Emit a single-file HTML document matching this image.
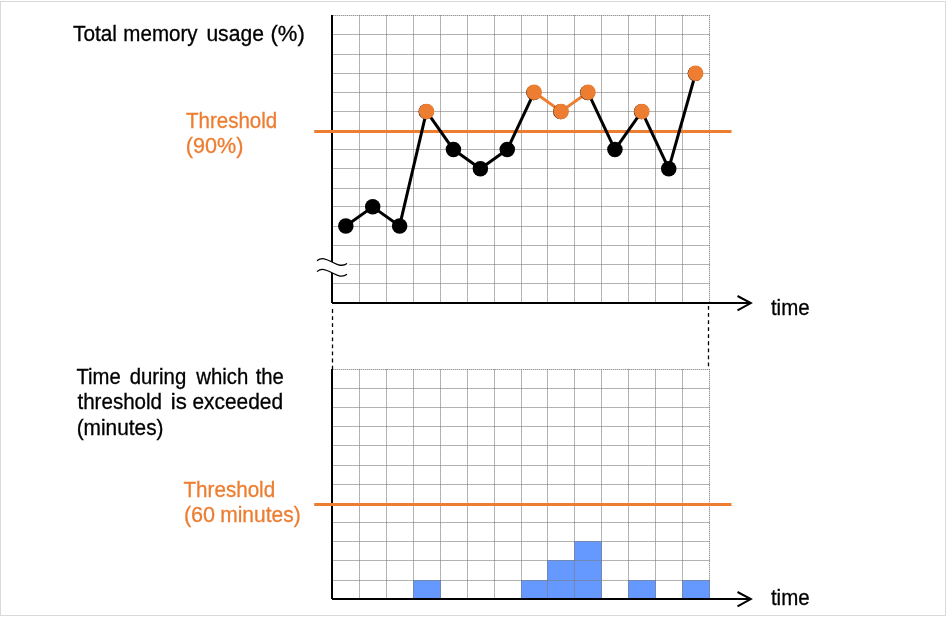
<!DOCTYPE html>
<html><head><meta charset="utf-8"><title>Memory usage threshold diagram</title>
<style>html,body{margin:0;padding:0;background:#fff;width:948px;height:618px;overflow:hidden}svg{display:block;will-change:transform}</style>
</head><body><svg width="948" height="618" viewBox="0 0 948 618"><rect x="0.5" y="1.5" width="945" height="614" fill="#fff" stroke="#d9d9d9" stroke-width="1"/><rect x="413" y="580" width="28" height="18" fill="#6699FF"/><rect x="521" y="580" width="27" height="18" fill="#6699FF"/><rect x="547" y="560" width="28" height="38" fill="#6699FF"/><rect x="574" y="541" width="28" height="57" fill="#6699FF"/><rect x="628" y="580" width="28" height="18" fill="#6699FF"/><rect x="682" y="580" width="28" height="18" fill="#6699FF"/><g stroke-width="1" stroke="#7a7a7a"><g stroke-opacity="0.52"><line x1="333" y1="34.5" x2="710" y2="34.5"/><line x1="333" y1="54.5" x2="710" y2="54.5"/><line x1="333" y1="73.5" x2="710" y2="73.5"/><line x1="333" y1="92.5" x2="710" y2="92.5"/><line x1="333" y1="111.5" x2="710" y2="111.5"/><line x1="333" y1="130.5" x2="710" y2="130.5"/><line x1="333" y1="149.5" x2="710" y2="149.5"/><line x1="333" y1="168.5" x2="710" y2="168.5"/><line x1="333" y1="188.5" x2="710" y2="188.5"/><line x1="333" y1="206.5" x2="710" y2="206.5"/><line x1="333" y1="226.5" x2="710" y2="226.5"/><line x1="333" y1="245.5" x2="710" y2="245.5"/><line x1="333" y1="264.5" x2="710" y2="264.5"/><line x1="333" y1="283.5" x2="710" y2="283.5"/></g><g stroke-opacity="0.22" stroke-dasharray="1 1"><line x1="333" y1="34.5" x2="710" y2="34.5"/><line x1="333" y1="54.5" x2="710" y2="54.5"/><line x1="333" y1="73.5" x2="710" y2="73.5"/><line x1="333" y1="92.5" x2="710" y2="92.5"/><line x1="333" y1="111.5" x2="710" y2="111.5"/><line x1="333" y1="130.5" x2="710" y2="130.5"/><line x1="333" y1="149.5" x2="710" y2="149.5"/><line x1="333" y1="168.5" x2="710" y2="168.5"/><line x1="333" y1="188.5" x2="710" y2="188.5"/><line x1="333" y1="206.5" x2="710" y2="206.5"/><line x1="333" y1="226.5" x2="710" y2="226.5"/><line x1="333" y1="245.5" x2="710" y2="245.5"/><line x1="333" y1="264.5" x2="710" y2="264.5"/><line x1="333" y1="283.5" x2="710" y2="283.5"/></g><g stroke-opacity="0.50"><line x1="359.5" y1="15" x2="359.5" y2="302"/><line x1="386.5" y1="15" x2="386.5" y2="302"/><line x1="413.5" y1="15" x2="413.5" y2="302"/><line x1="440.5" y1="15" x2="440.5" y2="302"/><line x1="467.5" y1="15" x2="467.5" y2="302"/><line x1="494.5" y1="15" x2="494.5" y2="302"/><line x1="521.5" y1="15" x2="521.5" y2="302"/><line x1="547.5" y1="15" x2="547.5" y2="302"/><line x1="574.5" y1="15" x2="574.5" y2="302"/><line x1="601.5" y1="15" x2="601.5" y2="302"/><line x1="628.5" y1="15" x2="628.5" y2="302"/><line x1="655.5" y1="15" x2="655.5" y2="302"/><line x1="682.5" y1="15" x2="682.5" y2="302"/></g><g stroke-opacity="0.30" stroke-dasharray="1 1"><line x1="359.5" y1="15" x2="359.5" y2="302"/><line x1="386.5" y1="15" x2="386.5" y2="302"/><line x1="413.5" y1="15" x2="413.5" y2="302"/><line x1="440.5" y1="15" x2="440.5" y2="302"/><line x1="467.5" y1="15" x2="467.5" y2="302"/><line x1="494.5" y1="15" x2="494.5" y2="302"/><line x1="521.5" y1="15" x2="521.5" y2="302"/><line x1="547.5" y1="15" x2="547.5" y2="302"/><line x1="574.5" y1="15" x2="574.5" y2="302"/><line x1="601.5" y1="15" x2="601.5" y2="302"/><line x1="628.5" y1="15" x2="628.5" y2="302"/><line x1="655.5" y1="15" x2="655.5" y2="302"/><line x1="682.5" y1="15" x2="682.5" y2="302"/></g><g stroke-opacity="0.33"><line x1="333" y1="15.5" x2="710" y2="15.5"/><line x1="709.5" y1="15" x2="709.5" y2="302"/></g><g stroke-opacity="0.65" stroke-dasharray="1 1"><line x1="333" y1="15.5" x2="710" y2="15.5"/><line x1="709.5" y1="15" x2="709.5" y2="302"/></g></g><g stroke-width="1" stroke="#7a7a7a"><g stroke-opacity="0.52"><line x1="333" y1="388.5" x2="710" y2="388.5"/><line x1="333" y1="407.5" x2="710" y2="407.5"/><line x1="333" y1="426.5" x2="710" y2="426.5"/><line x1="333" y1="445.5" x2="710" y2="445.5"/><line x1="333" y1="465.5" x2="710" y2="465.5"/><line x1="333" y1="484.5" x2="710" y2="484.5"/><line x1="333" y1="503.5" x2="710" y2="503.5"/><line x1="333" y1="522.5" x2="710" y2="522.5"/><line x1="333" y1="541.5" x2="710" y2="541.5"/><line x1="333" y1="560.5" x2="710" y2="560.5"/><line x1="333" y1="580.5" x2="710" y2="580.5"/></g><g stroke-opacity="0.22" stroke-dasharray="1 1"><line x1="333" y1="388.5" x2="710" y2="388.5"/><line x1="333" y1="407.5" x2="710" y2="407.5"/><line x1="333" y1="426.5" x2="710" y2="426.5"/><line x1="333" y1="445.5" x2="710" y2="445.5"/><line x1="333" y1="465.5" x2="710" y2="465.5"/><line x1="333" y1="484.5" x2="710" y2="484.5"/><line x1="333" y1="503.5" x2="710" y2="503.5"/><line x1="333" y1="522.5" x2="710" y2="522.5"/><line x1="333" y1="541.5" x2="710" y2="541.5"/><line x1="333" y1="560.5" x2="710" y2="560.5"/><line x1="333" y1="580.5" x2="710" y2="580.5"/></g><g stroke-opacity="0.50"><line x1="359.5" y1="369" x2="359.5" y2="598"/><line x1="386.5" y1="369" x2="386.5" y2="598"/><line x1="413.5" y1="369" x2="413.5" y2="598"/><line x1="440.5" y1="369" x2="440.5" y2="598"/><line x1="467.5" y1="369" x2="467.5" y2="598"/><line x1="494.5" y1="369" x2="494.5" y2="598"/><line x1="521.5" y1="369" x2="521.5" y2="598"/><line x1="547.5" y1="369" x2="547.5" y2="598"/><line x1="574.5" y1="369" x2="574.5" y2="598"/><line x1="601.5" y1="369" x2="601.5" y2="598"/><line x1="628.5" y1="369" x2="628.5" y2="598"/><line x1="655.5" y1="369" x2="655.5" y2="598"/><line x1="682.5" y1="369" x2="682.5" y2="598"/></g><g stroke-opacity="0.30" stroke-dasharray="1 1"><line x1="359.5" y1="369" x2="359.5" y2="598"/><line x1="386.5" y1="369" x2="386.5" y2="598"/><line x1="413.5" y1="369" x2="413.5" y2="598"/><line x1="440.5" y1="369" x2="440.5" y2="598"/><line x1="467.5" y1="369" x2="467.5" y2="598"/><line x1="494.5" y1="369" x2="494.5" y2="598"/><line x1="521.5" y1="369" x2="521.5" y2="598"/><line x1="547.5" y1="369" x2="547.5" y2="598"/><line x1="574.5" y1="369" x2="574.5" y2="598"/><line x1="601.5" y1="369" x2="601.5" y2="598"/><line x1="628.5" y1="369" x2="628.5" y2="598"/><line x1="655.5" y1="369" x2="655.5" y2="598"/><line x1="682.5" y1="369" x2="682.5" y2="598"/></g><g stroke-opacity="0.33"><line x1="333" y1="369.5" x2="710" y2="369.5"/><line x1="709.5" y1="369" x2="709.5" y2="598"/></g><g stroke-opacity="0.65" stroke-dasharray="1 1"><line x1="333" y1="369.5" x2="710" y2="369.5"/><line x1="709.5" y1="369" x2="709.5" y2="598"/></g></g><path d="M332 15 V303 M332 303 H750" fill="none" stroke="#000" stroke-width="2"/><path d="M737.5 296.0 L750.8 303 L737.5 310.4" fill="none" stroke="#000" stroke-width="2"/><path d="M332 369 V599 M332 599 H750" fill="none" stroke="#000" stroke-width="2"/><path d="M737.5 592.0 L750.8 599 L737.5 606.4" fill="none" stroke="#000" stroke-width="2"/><line x1="314.2" y1="131.5" x2="731.5" y2="131.5" stroke="#ED7D31" stroke-width="3"/><line x1="314.2" y1="504.5" x2="731.5" y2="504.5" stroke="#ED7D31" stroke-width="3"/><line x1="345.80" y1="225.94" x2="372.71" y2="206.85" stroke="#000" stroke-width="3"/><line x1="372.71" y1="206.85" x2="399.62" y2="225.94" stroke="#000" stroke-width="3"/><line x1="399.62" y1="225.94" x2="426.53" y2="111.40" stroke="#000" stroke-width="3"/><line x1="426.53" y1="111.40" x2="453.44" y2="149.58" stroke="#000" stroke-width="3"/><line x1="453.44" y1="149.58" x2="480.36" y2="168.67" stroke="#000" stroke-width="3"/><line x1="480.36" y1="168.67" x2="507.27" y2="149.58" stroke="#000" stroke-width="3"/><line x1="507.27" y1="149.58" x2="534.18" y2="92.31" stroke="#000" stroke-width="3"/><line x1="534.18" y1="92.31" x2="561.09" y2="111.40" stroke="#ED7D31" stroke-width="3"/><line x1="561.09" y1="111.40" x2="588.00" y2="92.31" stroke="#ED7D31" stroke-width="3"/><line x1="588.00" y1="92.31" x2="614.91" y2="149.58" stroke="#000" stroke-width="3"/><line x1="614.91" y1="149.58" x2="641.82" y2="111.40" stroke="#000" stroke-width="3"/><line x1="641.82" y1="111.40" x2="668.73" y2="168.67" stroke="#000" stroke-width="3"/><line x1="668.73" y1="168.67" x2="695.64" y2="73.22" stroke="#000" stroke-width="3"/><circle cx="345.80" cy="225.94" r="7.75" fill="#000"/><circle cx="372.71" cy="206.85" r="7.75" fill="#000"/><circle cx="399.62" cy="225.94" r="7.75" fill="#000"/><circle cx="426.13" cy="111.70" r="7.6" fill="#000"/><circle cx="426.53" cy="111.40" r="7.75" fill="#ED7D31"/><circle cx="453.44" cy="149.58" r="7.75" fill="#000"/><circle cx="480.36" cy="168.67" r="7.75" fill="#000"/><circle cx="507.27" cy="149.58" r="7.75" fill="#000"/><circle cx="533.78" cy="92.61" r="7.6" fill="#000"/><circle cx="534.18" cy="92.31" r="7.75" fill="#ED7D31"/><circle cx="560.69" cy="111.70" r="7.6" fill="#000"/><circle cx="561.09" cy="111.40" r="7.75" fill="#ED7D31"/><circle cx="587.60" cy="92.61" r="7.6" fill="#000"/><circle cx="588.00" cy="92.31" r="7.75" fill="#ED7D31"/><circle cx="614.91" cy="149.58" r="7.75" fill="#000"/><circle cx="641.42" cy="111.70" r="7.6" fill="#000"/><circle cx="641.82" cy="111.40" r="7.75" fill="#ED7D31"/><circle cx="668.73" cy="168.67" r="7.75" fill="#000"/><circle cx="695.24" cy="73.52" r="7.6" fill="#000"/><circle cx="695.64" cy="73.22" r="7.75" fill="#ED7D31"/><line x1="332.5" y1="309.1" x2="332.5" y2="369" stroke="#000" stroke-width="1.3" stroke-dasharray="3.8 3.27"/><line x1="708.5" y1="306" x2="708.5" y2="368" stroke="#000" stroke-width="1.3" stroke-dasharray="3.8 3.27"/><path d="M317,260.8 C322,256.5 327,259.5 332,262 S342,267.5 347,263.5 L349,263.5 L349,274.3 L347,274.3 C342,278.3 337,275.3 332,272.8 C327,270.3 322,267.3 317,271.6 Z" fill="#fff"/><path d="M317,260.8 C322,256.5 327,259.5 332,262 S342,267.5 347,263.5" fill="none" stroke="#000" stroke-width="1.25"/><path d="M317,271.6 C322,267.3 327,270.3 332,272.8 S342,278.3 347,274.3" fill="none" stroke="#000" stroke-width="1.25"/><g font-family="'Liberation Sans', Arial, sans-serif" font-size="21.5" stroke-width="0.3"><text x="73.00" y="41.00" fill="#000" stroke="#000" textLength="43.96" lengthAdjust="spacingAndGlyphs">Total</text><text x="123.36" y="41.00" fill="#000" stroke="#000" textLength="74.20" lengthAdjust="spacingAndGlyphs">memory</text><text x="206.38" y="41.00" fill="#000" stroke="#000" textLength="57.52" lengthAdjust="spacingAndGlyphs">usage</text><text x="270.47" y="41.00" fill="#000" stroke="#000" textLength="34.25" lengthAdjust="spacingAndGlyphs">(%)</text><text x="185.91" y="127.90" fill="#ED7D31" stroke="#ED7D31" textLength="91.36" lengthAdjust="spacingAndGlyphs">Threshold</text><text x="185.80" y="152.70" fill="#ED7D31" stroke="#ED7D31" textLength="57.64" lengthAdjust="spacingAndGlyphs">(90%)</text><text x="770.95" y="314.90" fill="#000" stroke="#000" textLength="38.67" lengthAdjust="spacingAndGlyphs">time</text><text x="76.42" y="383.90" fill="#000" stroke="#000" textLength="44.30" lengthAdjust="spacingAndGlyphs">Time</text><text x="129.70" y="383.90" fill="#000" stroke="#000" textLength="56.55" lengthAdjust="spacingAndGlyphs">during</text><text x="196.27" y="383.90" fill="#000" stroke="#000" textLength="52.09" lengthAdjust="spacingAndGlyphs">which</text><text x="255.65" y="383.90" fill="#000" stroke="#000" textLength="28.20" lengthAdjust="spacingAndGlyphs">the</text><text x="77.45" y="408.90" fill="#000" stroke="#000" textLength="84.63" lengthAdjust="spacingAndGlyphs">threshold</text><text x="170.77" y="408.90" fill="#000" stroke="#000" textLength="16.03" lengthAdjust="spacingAndGlyphs">is</text><text x="192.47" y="408.90" fill="#000" stroke="#000" textLength="90.63" lengthAdjust="spacingAndGlyphs">exceeded</text><text x="76.65" y="434.60" fill="#000" stroke="#000" textLength="86.88" lengthAdjust="spacingAndGlyphs">(minutes)</text><text x="183.51" y="497.00" fill="#ED7D31" stroke="#ED7D31" textLength="91.67" lengthAdjust="spacingAndGlyphs">Threshold</text><text x="183.90" y="521.90" fill="#ED7D31" stroke="#ED7D31" textLength="31.22" lengthAdjust="spacingAndGlyphs">(60</text><text x="220.23" y="521.90" fill="#ED7D31" stroke="#ED7D31" textLength="80.41" lengthAdjust="spacingAndGlyphs">minutes)</text><text x="770.95" y="604.90" fill="#000" stroke="#000" textLength="38.67" lengthAdjust="spacingAndGlyphs">time</text></g></svg></body></html>
